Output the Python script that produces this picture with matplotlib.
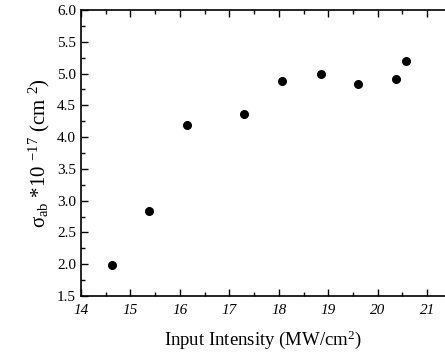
import matplotlib
matplotlib.use("Agg")
import matplotlib.pyplot as plt
from matplotlib.ticker import MultipleLocator

# values
intensity = [14.62, 15.38, 16.14, 17.29, 18.06, 18.85, 19.60, 20.37, 20.57]
sigma_ab = [1.99, 2.84, 4.19, 4.36, 4.89, 4.99, 4.84, 4.91, 5.19]

plt.rcParams["font.family"] = ["Liberation Serif", "DejaVu Serif"]
plt.rcParams["mathtext.fontset"] = "stix"
plt.rcParams["mathtext.default"] = "regular"

fig = plt.figure(figsize=(4.45, 3.56), dpi=100)
ax = fig.add_axes([81 / 445, 60 / 356, 1 - 81 / 445, 286 / 356])

ax.scatter(intensity, sigma_ab, s=30, color="black", zorder=3)

ax.set_xlim(14, 21.36)
ax.set_ylim(1.5, 6.0)
ax.xaxis.set_major_locator(MultipleLocator(1))
ax.xaxis.set_minor_locator(MultipleLocator(0.5))
ax.yaxis.set_major_locator(MultipleLocator(0.5))
ax.yaxis.set_minor_locator(MultipleLocator(0.25))
ax.yaxis.set_major_formatter(plt.FormatStrFormatter("%.1f"))
ax.tick_params(which="both", direction="in", top=True, labelsize=11)
ax.tick_params(which="major", length=5, width=1)
ax.tick_params(which="minor", length=3, width=1)
ax.tick_params(axis="x", pad=6)
for lbl in ax.get_xticklabels():
    lbl.set_style("italic")
ax.spines["right"].set_visible(False)
for s in ["left", "bottom", "top"]:
    ax.spines[s].set_linewidth(1.2)

ax.set_xlabel("Input Intensity (MW/cm$^2$)", fontsize=13.5, labelpad=8)
ax.set_ylabel(r"$\sigma_{ab}$ *10 $^{-17}$ (cm $^{2}$)", fontsize=15, labelpad=4)

fig.savefig("out.png", dpi=100)
